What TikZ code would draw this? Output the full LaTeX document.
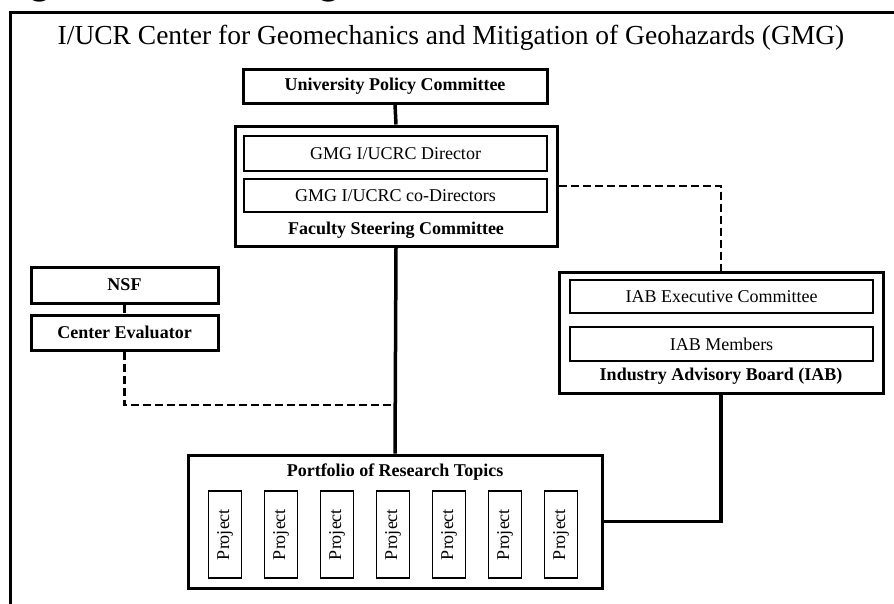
\documentclass[tikz,border=0pt]{standalone}
\usepackage{fontspec}
\setmainfont{Liberation Serif}
\newfontfamily\capfont{Carlito}
\usetikzlibrary{arrows.meta}

\begin{document}
\begin{tikzpicture}[x=1pt,y=-1pt,
  bigbox/.style={draw,line width=3pt,inner sep=0pt},
  smallbox/.style={draw,line width=1.4pt,inner sep=0pt,font=\fontsize{18}{20}\selectfont},
  boxtitle/.style={font=\fontsize{18}{20}\selectfont\bfseries,inner sep=0pt},
  projbox/.style={draw,line width=1.4pt,inner sep=0pt,rotate=90,minimum width=87pt,minimum height=33pt,font=\fontsize{18}{20}\selectfont},
  solidlink/.style={line width=3.5pt},
  dashlink/.style={line width=2.6pt,dash pattern=on 8pt off 4pt}]
\useasboundingbox (0,0) rectangle (894,603);
\clip (0,0) rectangle (894,603);
\node[anchor=base west,inner sep=0pt,font=\fontsize{45}{50}\selectfont\capfont\bfseries] (caption) at (-2,-6) {Figure 1. GMG organization};
\draw[line width=3pt] (10,610) -- (10,12) -- (900,12);
\node[font=\fontsize{27.5}{30}\selectfont] (title) at (451,38) {I/UCR Center for Geomechanics and Mitigation of Geohazards (GMG)};
\node[bigbox,minimum width=304pt,minimum height=34pt,font=\fontsize{18}{20}\selectfont\bfseries] (upc) at (395,86) {University Policy Committee};
\node[bigbox,minimum width=322pt,minimum height=120pt] (fsc) at (396,186) {};
\node[smallbox,minimum width=303pt,minimum height=35pt] (dir) at (395.5,153.5) {GMG I/UCRC Director};
\node[smallbox,minimum width=303pt,minimum height=33pt] (codir) at (395.5,195.5) {GMG I/UCRC co-Directors};
\node[boxtitle] (fsclabel) at (396,230) {Faculty Steering Committee};
\node[bigbox,minimum width=187pt,minimum height=36pt,font=\fontsize{18}{20}\selectfont\bfseries] (nsf) at (124.5,285) {NSF};
\node[bigbox,minimum width=187pt,minimum height=35pt,font=\fontsize{18}{20}\selectfont\bfseries] (eval) at (124.5,332.5) {Center Evaluator};
\node[bigbox,minimum width=324pt,minimum height=121pt] (iab) at (721,332.5) {};
\node[smallbox,minimum width=303pt,minimum height=33pt] (exec) at (721.5,296.5) {IAB Executive Committee};
\node[smallbox,minimum width=303pt,minimum height=34pt] (members) at (721.5,344) {IAB Members};
\node[boxtitle] (iablabel) at (721,376) {Industry Advisory Board (IAB)};
\node[bigbox,minimum width=414pt,minimum height=133pt] (port) at (395,521.5) {};
\node[boxtitle] (portlabel) at (395,472) {Portfolio of Research Topics};
\foreach \i in {0,...,6}
  \node[projbox] (proj\i) at (225+56*\i,534.5) {Project};
\coordinate (join) at (395,405);
\draw[solidlink] (upc.south) -- (fsc.north);
\draw[solidlink] (fsc.south) -- (port.north);
\draw[solidlink] (iab.south) |- (port.east);
\draw[dashlink] (fsc.east) -| (iab.north);
\draw[dashlink] (nsf.south) -- (eval.north);
\draw[dashlink] (eval.south) |- (join);
\end{tikzpicture}
\end{document}
